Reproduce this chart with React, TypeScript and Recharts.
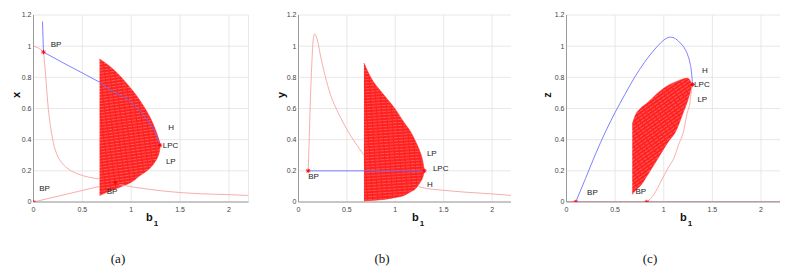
import React from 'react';
import { ComposedChart, Line, Area, XAxis, YAxis, CartesianGrid } from 'recharts';

const xTicks = [0, 0.5, 1, 1.5, 2];
const yTicks = [0, 0.2, 0.4, 0.6, 0.8, 1, 1.2];

// ---------- panel (a): x vs b1 ----------
const aBlueB = [0.092, 0.102, 0.3, 0.5, 0.676, 0.783, 0.92, 0.987, 1.06, 1.123, 1.18, 1.226, 1.26, 1.285];
const aBlueV = [1.158, 0.962, 0.894, 0.828, 0.769, 0.72, 0.675, 0.647, 0.605, 0.561, 0.515, 0.466, 0.425, 0.38];
// upper equilibrium branch, left part (outside the cycle family)
const aPinkB = [0, 0.102, 0.112, 0.125, 0.152, 0.178, 0.203, 0.24, 0.288, 0.36, 0.459, 0.56, 0.68];
const aPinkV = [1.0, 0.962, 0.9, 0.806, 0.594, 0.47, 0.381, 0.305, 0.253, 0.21, 0.179, 0.16, 0.147];
// same branch, right part
const aPink2B = [0.88, 1.024, 1.2, 1.365, 1.706, 2.0, 2.2];
const aPink2V = [0.112, 0.096, 0.08, 0.068, 0.053, 0.047, 0.042];
const aLowB = [0, 0.35, 0.676];
const aLowV = [0, 0.052, 0.1];
const aCycB = [0.676, 0.76, 0.853, 0.92, 1.02, 1.09, 1.16, 1.21, 1.25, 1.275, 1.29, 1.297];
const aCycHi = [0.918, 0.88, 0.83, 0.785, 0.71, 0.65, 0.58, 0.52, 0.46, 0.415, 0.385, 0.365];
const aCycLo = [0.042, 0.065, 0.088, 0.104, 0.135, 0.17, 0.2, 0.23, 0.265, 0.295, 0.33, 0.365];
const aMarkB = [0, 0.102, 0.836, 1.295];
const aMarkV = [0, 0.962, 0.125, 0.365];
const aLabT = ['BP', 'BP', 'BP', 'H', 'LPC', 'LP'];
const aLabB = [0.176, 0.059, 0.749, 1.379, 1.322, 1.355];
const aLabV = [1.013, 0.086, 0.067, 0.477, 0.365, 0.264];

// ---------- panel (b): y vs b1 ----------
const bBlueB = [0.1, 1.3];
const bBlueV = [0.2, 0.2];
const bPinkB = [0.1, 0.108, 0.115, 0.125, 0.132, 0.145, 0.152, 0.166, 0.19, 0.23, 0.275, 0.33, 0.4, 0.436, 0.5, 0.609, 0.676];
const bPinkV = [0.2, 0.35, 0.5, 0.7, 0.806, 0.98, 1.04, 1.078, 1.05, 0.93, 0.81, 0.69, 0.585, 0.54, 0.465, 0.36, 0.3];
const bPink2B = [1.24, 1.267, 1.5, 1.75, 2.0, 2.2];
const bPink2V = [0.1, 0.094, 0.075, 0.062, 0.052, 0.042];
const bCycB = [0.676, 0.75, 0.85, 0.92, 0.99, 1.09, 1.163, 1.2, 1.25, 1.284, 1.3];
const bCycHi = [0.892, 0.795, 0.71, 0.658, 0.604, 0.51, 0.445, 0.4, 0.33, 0.26, 0.198];
const bCycLo = [0.006, 0.01, 0.015, 0.02, 0.028, 0.042, 0.068, 0.08, 0.12, 0.16, 0.198];
const bMarkB = [0.1, 1.3];
const bMarkV = [0.2, 0.2];
const bLabT = ['BP', 'LP', 'LPC', 'H'];
const bLabB = [0.1, 1.326, 1.388, 1.326];
const bLabV = [0.166, 0.316, 0.217, 0.115];

// ---------- panel (c): z vs b1 ----------
const cBlueB = [0.095, 0.195, 0.3, 0.4, 0.5, 0.6, 0.7, 0.8, 0.9, 0.966, 1.02, 1.069, 1.12, 1.17, 1.21, 1.245, 1.27, 1.287, 1.295];
const cBlueV = [0, 0.15, 0.31, 0.45, 0.575, 0.69, 0.8, 0.895, 0.975, 1.02, 1.048, 1.058, 1.048, 1.02, 0.99, 0.945, 0.89, 0.82, 0.754];
const cPinkB = [0.825, 0.9, 0.966, 1.05, 1.103, 1.154, 1.206, 1.24, 1.267, 1.285, 1.295];
const cPinkV = [0, 0.05, 0.126, 0.225, 0.28, 0.37, 0.46, 0.57, 0.63, 0.72, 0.754];
const cBaseB = [0, 2.2];
const cBaseV = [0, 0];
const cCycB = [0.676, 0.71, 0.76, 0.83, 0.93, 1.05, 1.12, 1.2, 1.24, 1.27, 1.29];
const cCycHi = [0.5, 0.56, 0.6, 0.635, 0.695, 0.75, 0.77, 0.79, 0.795, 0.78, 0.755];
const cCycLo = [0.048, 0.075, 0.104, 0.17, 0.27, 0.39, 0.45, 0.575, 0.64, 0.7, 0.745];
const cMarkB = [0.095, 0.825, 1.295];
const cMarkV = [0, 0, 0.754];
const cLabT = ['BP', 'BP', 'H', 'LPC', 'LP'];
const cLabB = [0.212, 0.709, 1.394, 1.312, 1.346];
const cLabV = [0.066, 0.07, 0.844, 0.753, 0.662];

const zip = (bs: number[], vs: number[]) => bs.map((b, i) => ({ b, v: vs[i] }));
const band = (bs: number[], lo: number[], hi: number[]) => bs.map((b, i) => ({ b, r: [lo[i], hi[i]] }));
const labs = (ts: string[], bs: number[], vs: number[]) => bs.map((b, i) => ({ b, v: vs[i], t: ts[i] }));

const SANS = 'Liberation Sans, Arial, Helvetica, sans-serif';
const BLUE = '#6a6aff';
const PINK = '#f6a4a4';

const Star = (p: any) => {
  const { cx, cy, index } = p;
  if (cx == null || cy == null) return <g key={`s${index}`} />;
  const r = 2.2;
  return (
    <g key={`s${index}`} stroke="#ff0000" strokeWidth={0.9}>
      <line x1={cx - r} y1={cy} x2={cx + r} y2={cy} />
      <line x1={cx} y1={cy - r} x2={cx} y2={cy + r} />
      <line x1={cx - r * 0.7} y1={cy - r * 0.7} x2={cx + r * 0.7} y2={cy + r * 0.7} />
      <line x1={cx - r * 0.7} y1={cy + r * 0.7} x2={cx + r * 0.7} y2={cy - r * 0.7} />
    </g>
  );
};

const Lab = (p: any) => {
  const { cx, cy, index, payload } = p;
  if (cx == null || cy == null) return <g key={`t${index}`} />;
  return (
    <text key={`t${index}`} x={cx} y={cy} dy="0.35em" fontSize={8} fontFamily={SANS} fill="#222">
      {payload.t}
    </text>
  );
};

type PanelProps = {
  left: number;
  plotW: number;
  yName: string;
  yLabX: number;
  xLabX: number;
  caption: string;
  capX: number;
  fillId: string;
  cyc: { b: number; r: number[] }[];
  pinks: { b: number; v: number }[][];
  base?: { b: number; v: number }[];
  blues: { b: number; v: number }[][];
  blueType: 'linear' | 'monotone';
  marks: { b: number; v: number }[];
  labels: { b: number; v: number; t: string }[];
};

const YW = 33.5;

const Panel = (pp: PanelProps) => {
  const tick = { fontSize: 7, fill: '#444', fontFamily: SANS };
  return (
    <div style={{ position: 'absolute', left: pp.left, top: 0, width: YW + pp.plotW + 2, height: 269 }}>
      <ComposedChart
        width={YW + pp.plotW}
        height={224}
        data={pp.cyc}
        margin={{ top: 15, right: 0, bottom: 0, left: 0 }}
      >
        <CartesianGrid stroke="#e2e2e2" strokeWidth={0.8} />
        <XAxis
          dataKey="b"
          type="number"
          domain={[0, 2.2]}
          ticks={xTicks}
          allowDataOverflow
          interval={0}
          height={22}
          tickLine={false}
          tickSize={3}
          tickMargin={2}
          axisLine={{ stroke: '#9a9a9a' }}
          tick={tick}
        />
        <YAxis
          type="number"
          domain={[0, 1.2]}
          ticks={yTicks}
          allowDataOverflow
          interval={0}
          width={YW}
          tickLine={false}
          tickSize={0}
          tickMargin={2}
          axisLine={{ stroke: '#9a9a9a' }}
          tick={tick}
        />
        <Area
          dataKey="r"
          type="monotone"
          stroke="#ff2a2a"
          strokeWidth={0.6}
          fill={`url(#${pp.fillId})`}
          fillOpacity={1}
          isAnimationActive={false}
          activeDot={false}
        />
        {pp.pinks.map((d, i) => (
          <Line
            key={`p${i}`}
            data={d}
            dataKey="v"
            type="monotone"
            stroke={PINK}
            strokeWidth={0.9}
            dot={false}
            activeDot={false}
            isAnimationActive={false}
          />
        ))}
        {pp.base ? (
          <Line
            data={pp.base}
            dataKey="v"
            type="linear"
            stroke="#e04848"
            strokeWidth={1}
            dot={false}
            activeDot={false}
            isAnimationActive={false}
          />
        ) : null}
        {pp.blues.map((d, i) => (
          <Line
            key={`bl${i}`}
            data={d}
            dataKey="v"
            type={pp.blueType}
            stroke={BLUE}
            strokeOpacity={0.85}
            strokeWidth={1}
            dot={false}
            activeDot={false}
            isAnimationActive={false}
          />
        ))}
        <Line
          data={pp.marks}
          dataKey="v"
          stroke="none"
          dot={Star}
          activeDot={false}
          isAnimationActive={false}
        />
        <Line
          data={pp.labels}
          dataKey="v"
          stroke="none"
          dot={Lab}
          activeDot={false}
          isAnimationActive={false}
        />
      </ComposedChart>
      <div
        style={{
          position: 'absolute',
          left: pp.yLabX,
          top: 95,
          transform: 'translate(-50%, -50%) rotate(-90deg)',
          fontFamily: SANS,
          fontWeight: 'bold',
          fontSize: 11,
          color: '#111',
          lineHeight: 1,
        }}
      >
        {pp.yName}
      </div>
      <div
        style={{
          position: 'absolute',
          left: pp.xLabX,
          top: 212,
          transform: 'translateX(-50%)',
          fontFamily: SANS,
          fontWeight: 'bold',
          fontSize: 11,
          color: '#111',
          lineHeight: 1,
          whiteSpace: 'nowrap',
        }}
      >
        b
        <span style={{ fontSize: 8, position: 'relative', top: 5, marginLeft: 1 }}>1</span>
      </div>
      <div
        style={{
          position: 'absolute',
          left: pp.capX,
          top: 258,
          transform: 'translate(-50%, -50%)',
          fontFamily: 'Liberation Serif, Times New Roman, serif',
          fontSize: 13,
          color: '#111',
          lineHeight: 1,
          whiteSpace: 'nowrap',
        }}
      >
        {pp.caption}
      </div>
    </div>
  );
};

const Patterns = () => (
  <svg width={0} height={0} style={{ position: 'absolute', left: 0, top: 0 }}>
    <defs>
      <pattern id="cycH" width={5} height={3} patternUnits="userSpaceOnUse" patternTransform="rotate(-8)">
        <rect x={0} y={0} width={5} height={3} fill="#ff2020" />
        <line x1={0} y1={2.5} x2={5} y2={2.5} stroke="#ffffff" strokeOpacity={0.45} strokeWidth={0.6} strokeDasharray="3 1" />
      </pattern>
      <pattern id="cycB" width={5} height={3} patternUnits="userSpaceOnUse" patternTransform="rotate(-4)">
        <rect x={0} y={0} width={5} height={3} fill="#ff2020" />
        <line x1={0} y1={2.5} x2={5} y2={2.5} stroke="#ffffff" strokeOpacity={0.4} strokeWidth={0.6} strokeDasharray="3 1" />
      </pattern>
      <pattern id="cycC" width={5} height={3} patternUnits="userSpaceOnUse" patternTransform="rotate(-35)">
        <rect x={0} y={0} width={5} height={3} fill="#ff2020" />
        <line x1={0} y1={2.5} x2={5} y2={2.5} stroke="#ffffff" strokeOpacity={0.45} strokeWidth={0.6} strokeDasharray="3 1" />
      </pattern>
    </defs>
  </svg>
);

export default function App() {
  return (
    <div style={{ position: 'absolute', left: 0, top: 0, width: 794, height: 269, background: '#fff', overflow: 'hidden' }}>
      <Patterns />
      <Panel
        left={0}
        plotW={215}
        yName="x"
        yLabX={15.5}
        xLabX={152}
        caption="(a)"
        capX={118}
        fillId="cycH"
        cyc={band(aCycB, aCycLo, aCycHi)}
        pinks={[zip(aPinkB, aPinkV), zip(aPink2B, aPink2V), zip(aLowB, aLowV)]}
        blues={[zip(aBlueB, aBlueV)]}
        blueType="linear"
        marks={zip(aMarkB, aMarkV)}
        labels={labs(aLabT, aLabB, aLabV)}
      />
      <Panel
        left={264.5}
        plotW={213}
        yName="y"
        yLabX={16}
        xLabX={418 - 264.5}
        caption="(b)"
        capX={382 - 264.5}
        fillId="cycB"
        cyc={band(bCycB, bCycLo, bCycHi)}
        pinks={[zip(bPinkB, bPinkV), zip(bPink2B, bPink2V)]}
        blues={[zip(bBlueB, bBlueV)]}
        blueType="linear"
        marks={zip(bMarkB, bMarkV)}
        labels={labs(bLabT, bLabB, bLabV)}
      />
      <Panel
        left={532.5}
        plotW={214}
        yName="z"
        yLabX={14.5}
        xLabX={686 - 532.5}
        caption="(c)"
        capX={650 - 532.5}
        fillId="cycC"
        cyc={band(cCycB, cCycLo, cCycHi)}
        pinks={[zip(cPinkB, cPinkV)]}
        base={zip(cBaseB, cBaseV)}
        blues={[zip(cBlueB, cBlueV)]}
        blueType="monotone"
        marks={zip(cMarkB, cMarkV)}
        labels={labs(cLabT, cLabB, cLabV)}
      />
    </div>
  );
}
